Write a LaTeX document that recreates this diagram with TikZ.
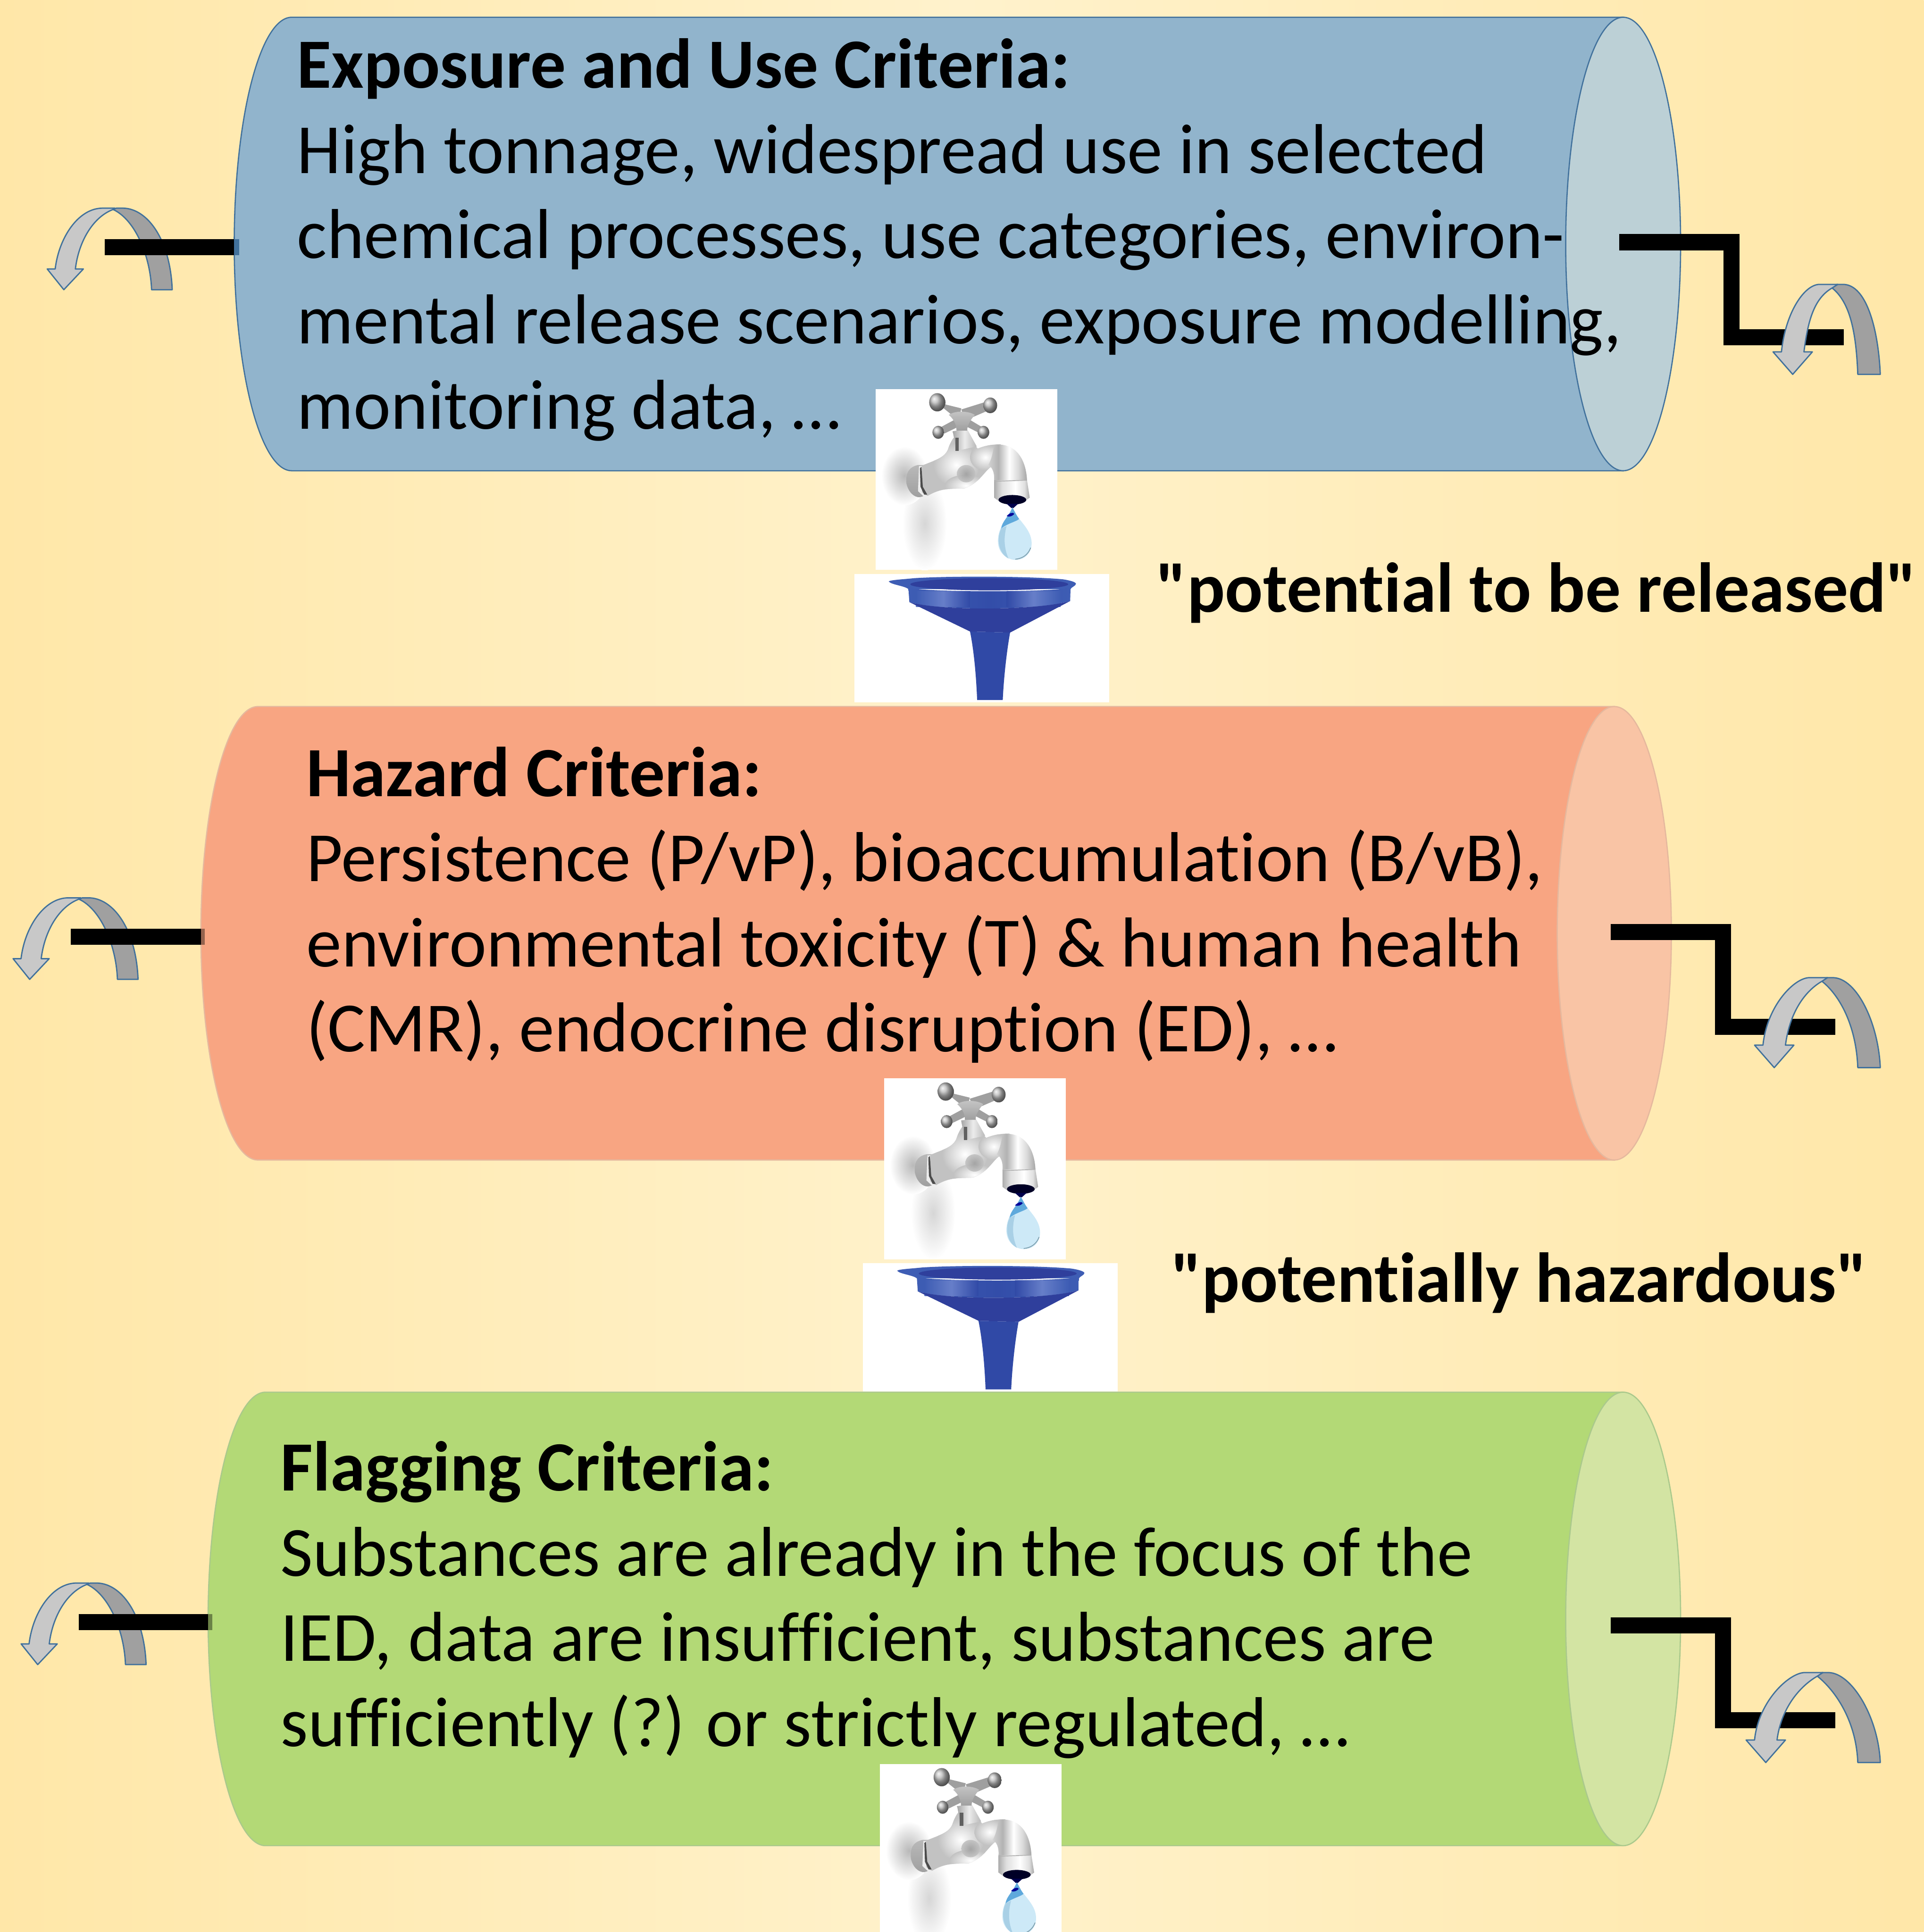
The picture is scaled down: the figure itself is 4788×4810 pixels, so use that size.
\documentclass[tikz,border=0pt]{standalone}
\usepackage{fontspec}
\newfontfamily\cfont[Ligatures=NoCommon]{Carlito}
\definecolor{bgedge}{HTML}{FFE7A8}
\definecolor{bgmid}{HTML}{FFF2CC}
\definecolor{blueF}{HTML}{91B4CC}
\definecolor{blueC}{HTML}{BCD0D6}
\definecolor{blueE}{HTML}{41719C}
\definecolor{orF}{HTML}{F8A582}
\definecolor{orC}{HTML}{F9C4A5}
\definecolor{orE}{HTML}{E5B89E}
\definecolor{grF}{HTML}{B3D976}
\definecolor{grC}{HTML}{D3E4A3}
\definecolor{grE}{HTML}{AAC98C}
\definecolor{arrowL}{HTML}{C8C8C8}
\definecolor{arrowD}{HTML}{A0A0A0}
\definecolor{fnA}{HTML}{3E5DB4}
\definecolor{fnB}{HTML}{6F86CE}
\definecolor{fnC}{HTML}{2F3F9C}
\definecolor{fnD}{HTML}{3049A6}
\definecolor{dropA}{HTML}{CDE9F7}
\definecolor{dropB}{HTML}{5FA9DC}
\definecolor{dropC}{HTML}{A9D0E6}
\pgfdeclarehorizontalshading{chrome}{100bp}{color(0bp)=(gray!35);color(25bp)=(gray!35);color(38bp)=(gray!60);color(52bp)=(white);color(64bp)=(gray!30);color(75bp)=(gray!70);color(100bp)=(gray!70)}
\pgfdeclarehorizontalshading{nozzle}{100bp}{color(0bp)=(gray!65);color(25bp)=(gray!65);color(36bp)=(gray!25);color(55bp)=(white);color(68bp)=(gray!25);color(75bp)=(gray!70);color(100bp)=(gray!70)}
\tikzset{
  bodytext/.style={anchor=north west,inner sep=0pt,align=left,font=\cfont\fontsize{50}{60.3}\selectfont},
  labeltext/.style={anchor=base west,inner sep=0pt,font=\cfont\fontsize{50}{60.3}\selectfont\bfseries},
  barline/.style={line width=0.4cm,line cap=butt,line join=miter},
  arrowedge/.style={draw=blueE,line width=0.032cm,line join=round},
}
\newcommand{\firstline}{\rule{0pt}{40pt}}
% cylinder: left, right, cap centre x, top, bottom, fill, cap, edge
\newcommand{\cyl}[8]{%
  \pgfmathsetmacro{\rx}{#2-#3}\pgfmathsetmacro{\ry}{(#5-#4)/2}\pgfmathsetmacro{\xl}{#1+\rx}\pgfmathsetmacro{\ym}{(#4+#5)/2}%
  \fill[#6,draw=#8,line width=0.03cm] (#3,#4) -- (\xl,#4) .. controls (\xl-0.5523*\rx,#4) and (#1,\ym-0.5523*\ry) .. (#1,\ym)
     .. controls (#1,\ym+0.5523*\ry) and (\xl-0.5523*\rx,#5) .. (\xl,#5) -- (#3,#5) -- cycle;
  \fill[#7,draw=#8,line width=0.03cm] (#3,\ym) ellipse [x radius=\rx,y radius=\ry];%
}
% curved arrow opening left, drawn in the crop coordinates
\newcommand{\leftarc}[2]{%
  \begin{scope}[shift={(#1+60,#2+450)},x=0.003831cm,y=-0.003333cm]
    \fill[arrowD,arrowedge] (578,215) -- (600,205) -- (640,205) .. controls (800,205) and (950,440) .. (962,815) -- (828,815) .. controls (820,560) and (720,290) .. (578,215) -- cycle;
    \fill[arrowL,arrowedge] (150,660) -- (202,660) .. controls (225,430) and (350,205) .. (510,205) -- (590,205) -- (578,215) .. controls (450,270) and (355,450) .. (333,660) -- (385,660) -- (258,815) -- cycle;
  \end{scope}}
% curved arrow on the right: top y, tip x
\newcommand{\rightarc}[2]{%
  \pgfmathsetmacro{\Cx}{#2+0.45*(4680-#2)}\pgfmathsetmacro{\Lx}{\Cx-31}\pgfmathsetmacro{\Fx}{\Cx+27}%
  \pgfmathsetmacro{\Ty}{#1}%
  \fill[arrowD,arrowedge] (\Cx,\Ty+9) -- (\Cx+12,\Ty) -- (\Fx,\Ty) .. controls (\Fx+58,\Ty) and (4675,\Ty+110) .. (4680,\Ty+224) -- (4624,\Ty+224) .. controls (4620,\Ty+120) and (\Cx+45,\Ty+45) .. (\Cx,\Ty+9) -- cycle;
  \fill[arrowL,arrowedge] (#2-49,\Ty+168) -- (#2-28,\Ty+168) .. controls (#2-18,\Ty+70) and (\Lx-38,\Ty) .. (\Lx,\Ty) -- (\Cx+14,\Ty) -- (\Cx,\Ty+9) .. controls (\Cx-45,\Ty+35) and (#2+38,\Ty+90) .. (#2+28,\Ty+168) -- (#2+49,\Ty+168) -- (#2,\Ty+224) -- cycle;%
}
% tap picture, drawn in the crop coordinates (1 unit = 1/2.09, 1/1.845 px)
\newcommand{\tapimg}[2]{%
 \begin{scope}[shift={(2050+#1,930+#2)},x=0.004785cm,y=-0.00542cm]
  \fill[white] (270,72) rectangle (1213,902);
  \begin{scope}
   \clip (270,72) rectangle (1213,902);
   \shade[inner color=gray!32,outer color=white] (525,690) ellipse [x radius=115,y radius=215];
   \shade[inner color=gray!55,outer color=white] (420,470) ellipse [x radius=120,y radius=135];
  \end{scope}
  % flange
  \shade[top color=gray!55,bottom color=gray!75] (490,420) .. controls (440,430) and (425,460) .. (430,505) .. controls (440,545) and (470,570) .. (500,568) -- (530,560) -- (520,420) -- cycle;
  % horizontal body with soft highlights
  \begin{scope}
   \clip (505,425) .. controls (570,400) and (625,390) .. (645,350) .. controls (660,310) and (675,290) .. (690,285) -- (745,290) -- (800,345) .. controls (840,330) and (880,325) .. (920,325) -- (950,430) -- (880,425) .. controls (845,430) and (820,500) .. (730,528) .. controls (660,530) and (610,525) .. (540,562) -- (505,545) -- cycle;
   \fill[gray!48] (480,270) rectangle (960,580);
   \shade[inner color=white,outer color=gray!48] (690,420) ellipse [x radius=120,y radius=100];
   \shade[inner color=white,outer color=gray!48] (840,385) ellipse [x radius=80,y radius=60];
   \shade[inner color=white,outer color=gray!48] (740,515) ellipse [x radius=110,y radius=50];
   \shade[inner color=gray!75,outer color=gray!48,opacity=0.9] (740,460) ellipse [x radius=48,y radius=40];
  \end{scope}
  \fill[gray!15] (495,425) -- (510,425) -- (510,545) -- (535,562) -- (520,565) -- (490,540) -- cycle;
  \fill[gray!60!black] (500,435) -- (508,428) -- (515,520) -- (538,556) -- (522,556) -- (503,520) -- cycle;
  % elbow and spout
  \shade[shading=chrome] (885,328) .. controls (990,315) and (1050,385) .. (1056,490) -- (885,490) .. controls (888,455) and (875,430) .. (855,420) .. controls (870,400) and (880,360) .. (885,328) -- cycle;
  \shade[shading=nozzle] (885,490) -- (1056,490) -- (1070,570) -- (1040,590) -- (915,590) -- (885,570) -- cycle;
  \draw[gray!60,line width=0.02cm] (885,495) -- (1056,490);
  \fill[black!85!blue] (980,580) ellipse [x radius=72,y radius=22];
  % drop
  \fill[black!70!blue] (950,598) -- (1010,598) -- (985,618) -- (975,618) -- cycle;
  \fill[dropA] (980,615) .. controls (960,660) and (905,700) .. (905,770) .. controls (905,830) and (960,856) .. (995,856) .. controls (1050,856) and (1080,820) .. (1080,780) .. controls (1080,710) and (1000,670) .. (980,615) -- cycle;
  \fill[dropC] (922,712) .. controls (900,750) and (900,820) .. (960,850) .. controls (935,800) and (935,750) .. (950,700) -- cycle;
  \fill[dropB] (980,615) .. controls (960,660) and (925,680) .. (922,712) .. controls (950,690) and (1000,680) .. (1015,668) .. controls (1000,650) and (990,630) .. (980,615) -- cycle;
  \fill[blue!60!black] (950,655) .. controls (965,640) and (985,635) .. (990,645) .. controls (980,655) and (965,660) .. (950,655) -- cycle;
  \draw[gray!70!cyan,line width=0.02cm] (1075,800) .. controls (1060,835) and (1030,850) .. (995,853);
  % neck
  \shade[left color=gray!70,right color=gray!55,middle color=gray!15] (670,265) -- (745,255) -- (795,335) -- (690,355) -- cycle;
  \fill[gray!75!black] (684,295) -- (702,295) -- (702,355) -- (684,355) -- cycle;
  % cross handle
  \fill[gray!75] (575,115) -- (610,150) -- (700,215) -- (715,160) -- (600,135) -- cycle;
  \fill[gray!75] (860,125) -- (880,160) -- (735,215) -- (715,165) -- cycle;
  \fill[gray!75] (590,255) -- (605,285) -- (710,240) -- (695,205) -- cycle;
  \fill[gray!75] (830,250) -- (835,285) -- (745,245) -- (745,205) -- cycle;
  \shade[top color=gray!45,bottom color=gray!75] (650,190) .. controls (680,170) and (750,170) .. (785,190) .. controls (760,215) and (745,240) .. (745,262) -- (690,262) .. controls (690,230) and (670,205) .. (650,190) -- cycle;
  \shade[ball color=gray!55] (590,132) circle [radius=42];
  \shade[ball color=gray!55] (865,146) circle [radius=36];
  \shade[ball color=gray!55] (595,270) circle [radius=30];
  \shade[ball color=gray!55] (830,270) circle [radius=30];
 \end{scope}}
% funnel picture
\newcommand{\funnelimg}[2]{%
 \begin{scope}[shift={(2050+#1,930+#2)},x=0.004785cm,y=-0.00542cm]
  \fill[white] (160,921) rectangle (1482,1510);
  \fill[fnA] (338,955) .. controls (345,948) and (420,945) .. (470,940) .. controls (650,930) and (1050,930) .. (1240,945) .. controls (1280,950) and (1310,958) .. (1310,966) .. controls (1310,975) and (1285,982) .. (1282,990) -- (440,990) .. controls (420,975) and (350,970) .. (338,955) -- cycle;
  \fill[fnC] (860,968) ellipse [x radius=410,y radius=28];
  \shade[left color=fnA,right color=fnA,middle color=fnD!80!fnA] (440,985) .. controls (560,1005) and (1150,1005) .. (1282,985) -- (1280,1045) .. controls (1100,1090) and (600,1090) .. (445,1050) -- cycle;
  \shade[left color=fnA,right color=fnD,middle color=fnB,opacity=0.85] (480,1000) rectangle (760,1072);
  \shade[left color=fnD,right color=fnA,middle color=fnB,opacity=0.85] (950,1000) rectangle (1230,1072);
  \fill[fnC] (445,1050) -- (760,1185) -- (968,1190) -- (1280,1045) .. controls (1100,1090) and (600,1090) .. (445,1050) -- cycle;
  \fill[fnD] (760,1185) .. controls (775,1250) and (790,1350) .. (797,1500) -- (930,1500) .. controls (935,1400) and (950,1280) .. (968,1190) -- cycle;
 \end{scope}}
\begin{document}
\begin{tikzpicture}[x=0.01cm,y=-0.01cm]
\useasboundingbox (0,0) rectangle (4788,4810);
\clip (0,0) rectangle (4788,4810);
\shade[left color=bgedge,right color=bgedge,middle color=bgmid] (0,0) rectangle (4788,4810);

% cylinders
\cyl{583}{4183}{4040}{43}{1172}{blueF}{blueC}{blueE}
\cyl{500}{4160}{4018}{1759}{2888}{orF}{orC}{orE}
\cyl{518}{4183}{4040}{3466}{4595}{grF}{grC}{grE}

% named ends of the connectors
\coordinate (a1) at (261,615);  \coordinate (b1) at (583,615);  \coordinate (e1) at (595,615);
\coordinate (a2) at (176,2332); \coordinate (b2) at (500,2332); \coordinate (e2) at (510,2332);
\coordinate (a3) at (196,4038); \coordinate (b3) at (518,4038); \coordinate (e3) at (528,4038);
\coordinate (p1) at (4030,603);  \coordinate (q1) at (4310,603);  \coordinate (r1) at (4310,840);  \coordinate (s1) at (4589,840);
\coordinate (p2) at (4009,2320); \coordinate (q2) at (4289,2320); \coordinate (r2) at (4289,2557); \coordinate (s2) at (4568,2557);
\coordinate (p3) at (4009,4047); \coordinate (q3) at (4289,4047); \coordinate (r3) at (4289,4283); \coordinate (s3) at (4568,4283);

% left arcs behind the black bars
\leftarc{0}{0}
\leftarc{-85}{1717}
\leftarc{-65}{3423}
\draw[barline] (a1) -- (b1);
\draw[barline,blueE] (b1) -- (e1);
\draw[barline] (a2) -- (b2);
\draw[barline,orF!60!black] (b2) -- (e2);
\draw[barline] (a3) -- (b3);
\draw[barline,grF!60!black] (b3) -- (e3);

% right connectors, then arcs in front
\draw[barline] (p1) -- (q1) -- (r1) -- (s1);
\draw[barline] (p2) -- (q2) -- (r2) -- (s2);
\draw[barline] (p3) -- (q3) -- (r3) -- (s3);
\rightarc{708}{4462}
\rightarc{2434}{4416}
\rightarc{4164}{4395}

% texts
\node[bodytext] (text1) at (739,78) {\firstline\textbf{Exposure and Use Criteria:}\\
High tonnage, widespread use in selected\\
chemical processes, use categories, environ-\\
mental release scenarios, exposure modelling,\\
monitoring data, …};
\node[bodytext] (text2) at (762,1841) {\firstline\textbf{Hazard Criteria:}\\
Persistence (P/vP), bioaccumulation (B/vB),\\
environmental toxicity (T) \& human health\\
(CMR), endocrine disruption (ED), …};
\node[bodytext] (text3) at (698,3570) {\firstline\textbf{Flagging Criteria:}\\
Substances are already in the focus of the\\
IED, data are insufficient, substances are\\
sufficiently (?) or strictly regulated, …};
\node[labeltext] (label1) at (2877,1524) {"potential to be released"};
\node[labeltext] (label2) at (2914,3242) {"potentially hazardous"};

% taps and funnels
\tapimg{0}{0}
\funnelimg{0}{0}
\tapimg{21}{1716}
\funnelimg{21}{1716}
\tapimg{11}{3423}
\end{tikzpicture}
\end{document}
